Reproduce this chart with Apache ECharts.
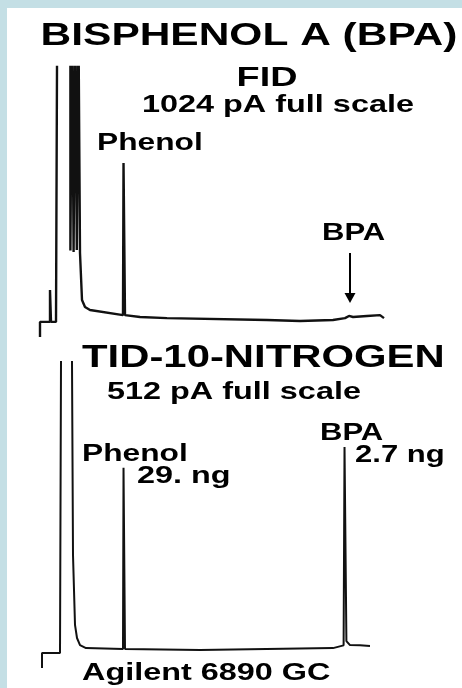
<!DOCTYPE html>
<html>
<head>
<meta charset="utf-8">
<script src="https://cdn.jsdelivr.net/npm/echarts@6/dist/echarts.min.js"></script>
<style>
html,body{margin:0;padding:0;background:#c4dfe5;}
#chart{width:462px;height:688px;}
</style>
</head>
<body>
<div id="chart"></div>
<script>
// FID trace (retention time in min, signal in % of full scale; >100 = off scale)
var fidTime = [0, 0, 0.25, 0.25, 0.275, 0.4, 0.425, 0.44, 0.76, 0.76, 0.8, 0.8, 0.84, 0.84, 0.88, 0.88, 0.92, 0.92, 0.96, 0.96, 0.99, 1.0, 1.05, 1.125, 1.25, 2.075, 2.088, 2.113, 2.125, 2.5, 3.175, 5.675, 6.5, 7.325, 7.625, 7.725, 7.775, 7.825, 8.175, 8.5, 8.6]
var fidSignal = [0, 5.6, 5.6, 17.4, 5.6, 5.6, 100, 120, 120, 32.0, 32.0, 120, 120, 31.5, 31.5, 120, 120, 32.2, 32.2, 120, 120, 31.1, 13.7, 11.1, 10.0, 8.1, 64.4, 64.4, 8.1, 7.4, 7.0, 6.3, 5.9, 6.3, 7.0, 7.8, 8.0, 7.4, 7.8, 8.1, 7.0]
// TID-10 nitrogen trace
var tidTime = [0.05, 0.05, 0.5, 0.525, 0.53, 0.78, 0.8, 0.825, 0.875, 0.925, 1.0, 1.15, 2.075, 2.088, 2.113, 2.125, 4.0, 7.325, 7.59, 7.613, 7.638, 7.66, 7.75, 8.0, 8.25]
var tidSignal = [0, 4.9, 4.9, 100, 120, 120, 100, 36.9, 14.1, 9.8, 7.5, 6.5, 6.2, 65.4, 65.4, 6.2, 5.9, 6.5, 7.4, 72.2, 72.2, 8.8, 7.5, 7.4, 7.2]
// BPA arrow on the FID trace
var bpaArrowTime = 7.75
var bpaArrowFrom = 31.1
var bpaArrowTo = 14.4

function pairs(xs, ys){
	var out = []
	for (var i = 0; i < xs.length; i++) out.push([xs[i], ys[i]])
	return out
}

var font = 'Liberation Sans, Arial, sans-serif'
function label(text, x, y, size, align, sx){
	return {
		type: 'text', x: x, y: y, scaleX: sx || 1.35, silent: true,
		style: {
			text: text, x: 0, y: 0, fill: '#000',
			fontSize: size, fontWeight: 'bold', fontFamily: font,
			align: align || 'left', verticalAlign: 'middle',
			textAlign: align || 'left', textVerticalAlign: 'middle'
		}
	}
}

var chart = echarts.init(document.getElementById('chart'))
var traceStyle = {color: '#111', width: 2}
var option = {
	backgroundColor: '#c4dfe5',
	animation: false,
	grid: [
		{left: 40, width: 400, top: 67, height: 270},
		{left: 40, width: 400, top: 362, height: 306}
	],
	xAxis: [
		{gridIndex: 0, type: 'value', min: 0, max: 10, show: false},
		{gridIndex: 1, type: 'value', min: 0, max: 10, show: false}
	],
	yAxis: [
		{gridIndex: 0, type: 'value', min: 0, max: 100, show: false},
		{gridIndex: 1, type: 'value', min: 0, max: 100, show: false}
	],
	graphic: [
		{type: 'rect', z: -10, silent: true, shape: {x: 7, y: 8, width: 455, height: 680}, style: {fill: '#fff'}},
		label('BISPHENOL A (BPA)', 249, 36, 31, 'center', 1.37),
		label('FID', 267, 78, 28, 'center'),
		label('1024 pA full scale', 142, 105, 24),
		label('Phenol', 97, 144, 23.5),
		label('BPA', 322, 234, 23),
		label('TID-10-NITROGEN', 82, 358, 31),
		label('512 pA full scale', 107, 392, 24),
		label('BPA', 320, 434, 23),
		label('Phenol', 82, 455, 23.5),
		label('2.7 ng', 355, 456, 23),
		label('29. ng', 137, 476, 24),
		label('Agilent 6890 GC', 82, 673, 24)
	],
	series: [
		{
			type: 'line', xAxisIndex: 0, yAxisIndex: 0,
			data: pairs(fidTime, fidSignal),
			symbol: 'none', lineStyle: {color: '#111', width: 2.4}, silent: true, clip: true,
			markLine: {
				silent: true,
				symbol: ['none', 'triangle'],
				symbolSize: [11, 10],
				label: {show: false},
				lineStyle: {color: '#000', width: 2, type: 'solid'},
				data: [[{coord: [bpaArrowTime, bpaArrowFrom]}, {coord: [bpaArrowTime, bpaArrowTo]}]]
			}
		},
		{
			type: 'line', xAxisIndex: 1, yAxisIndex: 1,
			data: pairs(tidTime, tidSignal),
			symbol: 'none', lineStyle: traceStyle, silent: true, clip: true
		}
	]
}
chart.setOption(option)
</script>
</body>
</html>
